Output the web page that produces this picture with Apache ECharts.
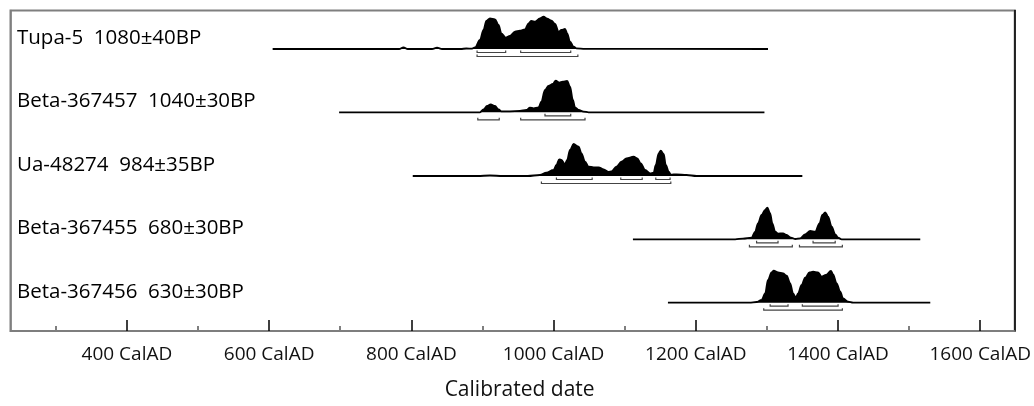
<!DOCTYPE html>
<html>
<head>
<meta charset="utf-8">
<script src="https://cdn.jsdelivr.net/npm/echarts@6/dist/echarts.min.js"></script>
<style>
  html, body { margin: 0; padding: 0; background: #fff; }
  #chart { width: 1034px; height: 406px; }
</style>
</head>
<body>
<div id="chart"></div>
<script>
// 样本名称
const labels = [
  'Tupa-5  1080±40BP',
  'Beta-367457  1040±30BP',
  'Ua-48274  984±35BP',
  'Beta-367455  680±30BP',
  'Beta-367456  630±30BP',
]

// 年代轴刻度
const majorTicks = [400, 600, 800, 1000, 1200, 1400, 1600]
const minorTicks = [300, 500, 700, 900, 1100, 1300, 1500]

// 概率分布 [年份, 相对高度]
const tupa5 = [
  [603, 0], [780, 0], [786, 1.7], [792, 0], [826, 0], [833, 1.3], [840, 0], [866, 0],
  [874, 0.5], [882, 0.3], [886, 1.5], [893, 9], [898, 19], [902, 28], [907, 30.7],
  [914, 29.7], [919, 24], [923, 15.7], [929, 11.3], [935, 13], [942, 17.3], [949, 18.3],
  [956, 19.7], [961, 25.7], [965, 28], [970, 27.3], [977, 30.7], [982, 32.3], [987, 30.3],
  [993, 28.3], [998, 25], [1003, 17.3], [1007, 19], [1012, 20], [1015, 15.7], [1019, 7.3],
  [1024, 2.3], [1028, 0.7], [1040, 0.2], [1296, 0],
]
const beta367457 = [
  [696, 0], [893, 0], [898, 3], [903, 6.3], [908, 8], [914, 6.3], [919, 3], [923, 1],
  [935, 1], [949, 1.3], [958, 2.3], [963, 4.7], [968, 4], [975, 5], [979, 10.7],
  [984, 22.3], [989, 26.3], [995, 28.3], [999, 31.7], [1004, 29.7], [1009, 30.7],
  [1015, 31.3], [1019, 25.7], [1023, 12.3], [1026, 5], [1031, 2.3], [1038, 0.7],
  [1045, 0], [1291, 0],
]
const ua48274 = [
  [799, 0], [890, 0], [907, 0.5], [925, 0], [960, 0], [977, 1], [986, 3.3], [996, 6],
  [1000, 11], [1004, 16.7], [1007, 16], [1012, 11.7], [1015, 16], [1019, 26], [1024, 32],
  [1031, 29.3], [1035, 22.7], [1040, 14.3], [1045, 9.3], [1052, 8.7], [1059, 8.7],
  [1066, 6.7], [1073, 4], [1077, 4.7], [1084, 9.3], [1091, 14.3], [1098, 17.7],
  [1108, 19.3], [1113, 17.7], [1118, 12.7], [1124, 6], [1131, 2.7], [1136, 3.3],
  [1139, 11], [1143, 22.7], [1146, 25.3], [1150, 22], [1153, 11], [1157, 4.3],
  [1160, 1.3], [1168, 1.7], [1182, 1], [1196, 0], [1344, 0],
]
const beta367455 = [
  [1107, 0], [1250, 0], [1261, 0.7], [1273, 1.7], [1278, 7.7], [1282, 16], [1287, 24.3],
  [1292, 29.3], [1295, 31.7], [1299, 26], [1302, 16], [1306, 7.7], [1310, 5.7],
  [1317, 6], [1322, 4.3], [1328, 1.7], [1334, 0.3], [1341, 1], [1348, 5], [1355, 8.3],
  [1362, 7.7], [1368, 16], [1372, 24.3], [1376, 27], [1380, 22.7], [1385, 12.7],
  [1390, 5], [1394, 1.7], [1399, 0], [1509, 0],
]
const beta367456 = [
  [1156, 0], [1270, 0], [1280, 0.7], [1287, 2.7], [1292, 9.3], [1296, 22.7], [1301, 30.3],
  [1304, 32], [1310, 30.3], [1317, 29.3], [1322, 27], [1327, 19.3], [1331, 9.3],
  [1335, 5], [1338, 9.3], [1343, 17.7], [1348, 25], [1354, 30.3], [1359, 31],
  [1366, 30.3], [1371, 26], [1377, 27.7], [1384, 31.7], [1387, 28.3], [1392, 19.3],
  [1397, 11], [1401, 4.3], [1408, 1], [1415, 0], [1523, 0],
]
const curves = [tupa5, beta367457, ua48274, beta367455, beta367456]

// 68.2% 与 95.4% 区间
const ranges68 = [
  [[889, 929], [950, 1020]],
  [[984, 1020]],
  [[1000, 1050], [1090, 1120], [1139, 1159]],
  [[1280, 1310], [1359, 1390]],
  [[1299, 1324], [1344, 1394]],
]
const ranges95 = [
  [[889, 1030]],
  [[890, 920], [950, 1040]],
  [[979, 1160]],
  [[1270, 1330], [1340, 1400]],
  [[1290, 1400]],
]

// 布局
const X_MIN = 236.3
const X_MAX = 1648.5
const LEFT = 10.5
const WIDTH = 1009.5
const baselines = [49, 112.3, 176, 239.3, 302.7]
const labelY = [38, 101.5, 165, 228.5, 292]
const FONT = 'Open Sans'

const grids = [{ left: LEFT, top: 10.5, width: WIDTH, height: 323.5, show: true, borderColor: '#7f7f7f', borderWidth: 2 }]
const xAxes = [
  {
    type: 'value', gridIndex: 0, min: X_MIN, max: X_MAX, position: 'bottom',
    axisLine: { lineStyle: { color: '#7f7f7f', width: 1.5 } },
    axisTick: { inside: true, length: 11, customValues: majorTicks, lineStyle: { color: '#000', width: 1.5 } },
    axisLabel: {
      customValues: majorTicks, margin: 14, color: '#111', fontFamily: FONT, fontSize: 19,
      formatter: (v) => v + ' CalAD',
    },
    splitLine: { show: false },
    name: 'Calibrated date', nameLocation: 'middle', nameGap: 49,
    nameTextStyle: { color: '#111', fontFamily: FONT, fontSize: 21, padding: [0, 0, 0, 14] },
  },
  {
    type: 'value', gridIndex: 0, min: X_MIN, max: X_MAX, position: 'bottom',
    axisLine: { show: false },
    axisTick: { inside: true, length: 5, customValues: minorTicks, lineStyle: { color: '#7f7f7f', width: 2 } },
    axisLabel: { show: false },
    splitLine: { show: false },
  },
]
const yAxes = [
  { type: 'value', gridIndex: 0, min: 0, max: 1, position: 'left', axisLine: { show: true, lineStyle: { color: '#7f7f7f', width: 1.5 } }, axisTick: { show: false }, axisLabel: { show: false }, splitLine: { show: false } },
  { type: 'value', gridIndex: 0, min: 0, max: 1, position: 'right', axisLine: { show: true, lineStyle: { color: '#000', width: 1.5 } }, axisTick: { show: false }, axisLabel: { show: false }, splitLine: { show: false } },
]
const series = []
const graphics = []

function bracket(level) {
  return function (params, api) {
    const s = api.coord([api.value(0), level])
    const e = api.coord([api.value(1), level])
    return {
      type: 'polyline',
      shape: { points: [[s[0], s[1] - 2], [s[0], s[1]], [e[0], e[1]], [e[0], e[1] - 2]] },
      style: { stroke: '#444', fill: null, lineWidth: 1.2 },
    }
  }
}

curves.forEach((curve, i) => {
  const g = i + 1
  grids.push({ left: LEFT, width: WIDTH, top: baselines[i] - 34, height: 44 })
  xAxes.push({ type: 'value', gridIndex: g, min: X_MIN, max: X_MAX, show: false })
  yAxes.push({ type: 'value', gridIndex: g, min: -10, max: 34, show: false })
  series.push({
    type: 'line', xAxisIndex: g + 1, yAxisIndex: g + 1, data: curve,
    symbol: 'none', smooth: 0.35, smoothMonotone: 'x', clip: false,
    lineStyle: { color: '#000', width: 1.8 },
    areaStyle: { color: '#000', opacity: 1 },
    silent: true,
  })
  series.push({
    type: 'custom', xAxisIndex: g + 1, yAxisIndex: g + 1, data: ranges68[i],
    renderItem: bracket(-3.5), silent: true,
  })
  series.push({
    type: 'custom', xAxisIndex: g + 1, yAxisIndex: g + 1, data: ranges95[i],
    renderItem: bracket(-7.5), silent: true,
  })
  graphics.push({
    type: 'text', x: 17, y: labelY[i],
    style: { text: labels[i], fill: '#000', fontFamily: FONT, fontSize: 20.5, verticalAlign: 'middle' },
  })
})

const option = {
  animation: false,
  backgroundColor: '#fff',
  grid: grids,
  xAxis: xAxes,
  yAxis: yAxes,
  series: series,
  graphic: graphics,
}
echarts.init(document.getElementById('chart')).setOption(option)
</script>
</body>
</html>
